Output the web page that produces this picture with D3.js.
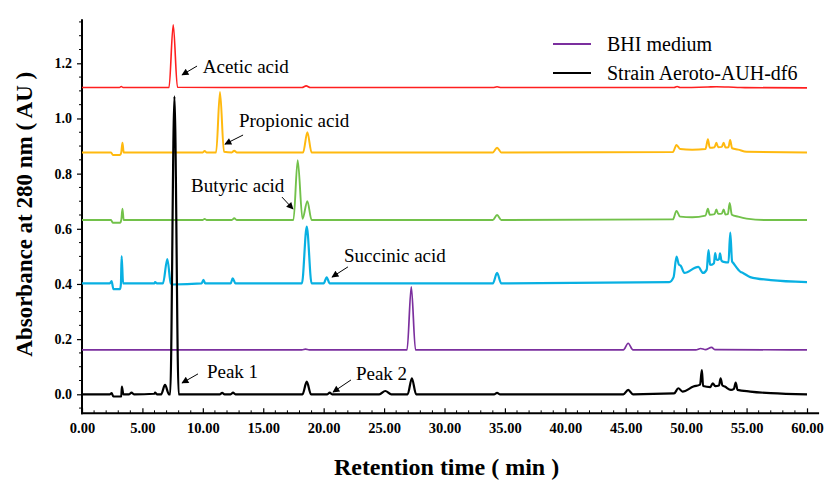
<!DOCTYPE html>
<html>
<head>
<meta charset="utf-8">
<script src="https://cdn.jsdelivr.net/npm/d3@7"></script>
<style>
  body { margin: 0; background: #fff; }
  svg { display: block; font-family: "Liberation Serif", "Times New Roman", serif; }
</style>
</head>
<body>
<div id="chart"></div>
<script>
// retention time (min), absorbance (AU)
const acetic = [
  [0, 1.112], [2.5, 1.112], [3.1, 1.112], [3.25, 1.116], [3.4, 1.112], [7.2, 1.112],
  [7.55, 1.34], [7.9, 1.113], [18.2, 1.112], [18.55, 1.118], [18.9, 1.112],
  [34.0, 1.112], [34.35, 1.115], [34.7, 1.112], [49.0, 1.112], [49.25, 1.116],
  [49.5, 1.112], [51.8, 1.114], [52.5, 1.115], [53.5, 1.114], [54.5, 1.112], [60, 1.111]
]
const propionic = [
  [0, 0.877], [2.4, 0.877], [2.55, 0.868], [3.15, 0.868], [3.25, 0.877], [3.35, 0.912],
  [3.45, 0.877], [10.0, 0.877], [10.15, 0.882], [10.3, 0.877], [11.1, 0.877],
  [11.42, 1.096], [11.75, 0.879], [12.4, 0.877], [12.6, 0.883], [12.8, 0.877],
  [18.3, 0.877], [18.65, 0.95], [19.0, 0.877], [34.0, 0.877], [34.35, 0.894],
  [34.7, 0.877], [48.9, 0.878], [49.2, 0.904], [49.5, 0.889], [50.5, 0.887],
  [51.6, 0.889], [51.8, 0.925], [51.95, 0.894], [52.35, 0.896], [52.5, 0.912],
  [52.65, 0.896], [52.95, 0.897], [53.1, 0.912], [53.25, 0.895], [53.5, 0.896],
  [53.64, 0.922], [53.8, 0.892], [54.3, 0.887], [55.0, 0.879], [60, 0.877]
]
const butyric = [
  [0, 0.632], [2.4, 0.632], [2.55, 0.622], [3.15, 0.622], [3.25, 0.632], [3.35, 0.673],
  [3.45, 0.632], [10.0, 0.632], [10.15, 0.636], [10.3, 0.632], [12.4, 0.632],
  [12.6, 0.638], [12.8, 0.632], [17.5, 0.632], [17.85, 0.849], [18.25, 0.636],
  [18.65, 0.70], [19.0, 0.632], [34.0, 0.632], [34.35, 0.65], [34.7, 0.632],
  [48.9, 0.634], [49.2, 0.665], [49.5, 0.644], [50.5, 0.642], [51.6, 0.648],
  [51.8, 0.673], [51.95, 0.651], [52.35, 0.653], [52.5, 0.67], [52.65, 0.654],
  [52.95, 0.655], [53.1, 0.67], [53.25, 0.652], [53.45, 0.653], [53.6, 0.694],
  [53.78, 0.651], [54.3, 0.644], [55.0, 0.637], [56.5, 0.632], [60, 0.632]
]
const succinic = [
  [0, 0.402], [2.3, 0.402], [2.45, 0.41], [2.6, 0.381], [3.15, 0.381], [3.22, 0.40],
  [3.28, 0.501], [3.4, 0.402], [6.0, 0.402], [6.05, 0.407], [6.2, 0.402], [6.7, 0.402],
  [7.06, 0.49], [7.35, 0.402], [7.5, 0.398], [9.9, 0.402], [10.05, 0.415], [10.2, 0.402],
  [12.3, 0.402], [12.47, 0.42], [12.7, 0.402], [18.2, 0.402], [18.6, 0.608],
  [19.0, 0.402], [20.0, 0.402], [20.25, 0.424], [20.5, 0.402], [34.0, 0.402],
  [34.35, 0.44], [34.7, 0.402], [48.6, 0.407], [48.96, 0.425], [49.2, 0.499],
  [49.4, 0.47], [49.55, 0.466], [49.85, 0.44], [51.0, 0.462], [51.4, 0.44],
  [51.7, 0.452], [51.85, 0.523], [51.98, 0.47], [52.05, 0.469], [52.3, 0.475],
  [52.4, 0.512], [52.5, 0.49], [52.6, 0.487], [52.72, 0.49], [52.8, 0.511],
  [52.92, 0.485], [53.1, 0.48], [53.5, 0.478], [53.65, 0.586], [53.8, 0.482],
  [53.9, 0.476], [54.5, 0.444], [54.7, 0.44], [55.3, 0.425], [57.0, 0.414], [60, 0.407]
]
const bhiMedium = [
  [0, 0.161], [18.2, 0.161], [18.5, 0.164], [18.8, 0.161], [26.9, 0.161], [27.25, 0.39],
  [27.6, 0.161], [44.8, 0.161], [45.2, 0.185], [45.6, 0.161], [50.8, 0.161],
  [51.2, 0.166], [51.6, 0.162], [52.1, 0.17], [52.4, 0.162], [60, 0.161]
]
const strain = [
  [0, 0.0], [2.3, 0.0], [2.45, 0.004], [2.6, -0.008], [3.25, -0.008], [3.3, 0.028],
  [3.42, 0.0], [3.9, 0.0], [4.1, 0.006], [4.3, 0.0], [6.0, 0.002], [6.05, 0.006],
  [6.2, 0.0], [6.55, 0.0], [6.87, 0.034], [7.2, 0.0], [7.3, 0.0], [7.65, 1.08],
  [8.0, 0.0], [11.4, 0.0], [11.6, 0.005], [11.8, 0.0], [12.3, 0.0], [12.5, 0.006],
  [12.7, 0.0], [18.25, 0.0], [18.6, 0.046], [18.95, 0.0], [20.3, 0.0], [20.5, 0.006],
  [20.7, 0.0], [24.6, 0.0], [25.1, 0.012], [25.6, 0.0], [26.95, 0.0], [27.3, 0.058],
  [27.65, 0.0], [34.1, 0.0], [34.35, 0.005], [34.6, 0.0], [44.8, 0.0], [45.2, 0.016],
  [45.6, 0.0], [49.0, 0.003], [49.35, 0.022], [49.7, 0.01], [50.6, 0.028],
  [51.15, 0.035], [51.3, 0.088], [51.4, 0.03], [52.0, 0.026], [52.2, 0.04],
  [52.4, 0.03], [52.72, 0.032], [52.85, 0.058], [53.0, 0.032], [53.2, 0.028],
  [53.7, 0.016], [53.95, 0.02], [54.1, 0.042], [54.25, 0.016], [55.3, 0.01],
  [57.0, 0.004], [60, 0.0]
]

const seriesNames = ["Acetic acid", "Propionic acid", "Butyric acid", "Succinic acid", "BHI medium", "Strain Aeroto-AUH-df6"]
const seriesData = [acetic, propionic, butyric, succinic, bhiMedium, strain]
const seriesColors = ["#ff1f1f", "#ffb90f", "#72c14a", "#08b0e2", "#7b2f9e", "#000000"]
const seriesWidths = [1.6, 2, 1.9, 2.2, 1.7, 2.2]

const legendNames = ["BHI medium", "Strain Aeroto-AUH-df6"]
const legendColors = ["#7b2f9e", "#000000"]

const xTicks = d3.range(0, 61, 5)
const yTicks = [0, 0.2, 0.4, 0.6, 0.8, 1.0, 1.2]

// [label, text t, text v, arrow tail t, tail v, arrow head t, head v]
const annotations = [
  ["Acetic acid", 10.0, 1.165, 9.52, 1.19, 8.28, 1.158],
  ["Propionic acid", 12.99, 0.97, 13.33, 0.94, 11.83, 0.907],
  ["Butyric acid", 9.02, 0.733, 16.55, 0.715, 17.46, 0.672],
  ["Succinic acid", 21.68, 0.48, 22.01, 0.462, 20.69, 0.425],
  ["Peak 1", 10.34, 0.059, 9.6, 0.074, 8.28, 0.041],
  ["Peak 2", 22.67, 0.052, 22.26, 0.052, 20.77, 0.008]
]

const width = 828
const height = 482

const svg = d3.select("#chart").append("svg")
  .attr("width", width)
  .attr("height", height)

const scaleX = d3.scaleLinear()
  .domain([0, 60])
  .range([82, 807])
const scaleY = d3.scaleLinear()
  .domain([0, 1.2])
  .range([394.3, 63.3])

const xEnd = 61
const yBottom = -0.069
const yTop = 1.36

svg.append("defs").append("marker")
  .attr("id", "arrow")
  .attr("viewBox", "0 0 10 10")
  .attr("refX", 9)
  .attr("refY", 5)
  .attr("markerUnits", "userSpaceOnUse")
  .attr("markerWidth", 9)
  .attr("markerHeight", 7)
  .attr("orient", "auto")
  .append("path")
    .attr("d", "M0,0 L10,5 L0,10 z")
    .attr("fill", "#000")

// x axis
const axisX = svg.append("g")
  .attr("transform", `translate(0,${scaleY(yBottom)})`)

axisX.append("g")
  .selectAll("line")
  .data(d3.range(1, 61).filter(d => d % 5 != 0))
  .join("line")
    .attr("x1", d => scaleX(d))
    .attr("x2", d => scaleX(d))
    .attr("y1", 0)
    .attr("y2", -3)
    .attr("stroke", "#000")
    .attr("stroke-width", 1)

axisX.call(d3.axisBottom(scaleX)
    .tickValues(xTicks)
    .tickFormat(d => d.toFixed(2))
    .tickSizeInner(-5)
    .tickSizeOuter(0)
    .tickPadding(9))
  .call(g => g.select(".domain").remove())
  .call(g => g.selectAll(".tick line").attr("stroke-width", 1.2))
  .call(g => g.selectAll(".tick text")
    .attr("font-family", "Liberation Serif")
    .attr("font-weight", "bold")
    .attr("font-size", 14.5)
    .attr("fill", "#000"))

axisX.append("line")
  .attr("x1", scaleX(0) - 1)
  .attr("x2", scaleX(xEnd))
  .attr("stroke", "#000")
  .attr("stroke-width", 2)

// y axis
const axisY = svg.append("g")
  .attr("transform", `translate(${scaleX(0)},0)`)

axisY.append("g")
  .selectAll("line")
  .data(d3.range(-1, 28).map(d => d * 0.05).filter(d => Math.round(d * 100) % 20 != 0))
  .join("line")
    .attr("x1", 0)
    .attr("x2", -3)
    .attr("y1", d => scaleY(d))
    .attr("y2", d => scaleY(d))
    .attr("stroke", "#000")
    .attr("stroke-width", 1)

axisY.call(d3.axisLeft(scaleY)
    .tickValues(yTicks)
    .tickFormat(d3.format(".1f"))
    .tickSizeInner(5)
    .tickSizeOuter(0)
    .tickPadding(5))
  .call(g => g.select(".domain").remove())
  .call(g => g.selectAll(".tick line").attr("stroke-width", 1.2))
  .call(g => g.selectAll(".tick text")
    .attr("font-family", "Liberation Serif")
    .attr("font-weight", "bold")
    .attr("font-size", 14)
    .attr("fill", "#000"))

axisY.append("line")
  .attr("y1", scaleY(yTop))
  .attr("y2", scaleY(yBottom) + 1)
  .attr("stroke", "#000")
  .attr("stroke-width", 2)

// traces
const line = d3.line()
  .x(d => scaleX(d[0]))
  .y(d => scaleY(d[1]))
  .curve(d3.curveMonotoneX)

svg.append("g")
  .selectAll("path")
  .data(seriesData)
  .join("path")
    .attr("d", line)
    .attr("fill", "none")
    .attr("stroke", (d, i) => seriesColors[i])
    .attr("stroke-width", (d, i) => seriesWidths[i])
    .attr("stroke-linejoin", "round")

// annotations
const notes = svg.append("g")
notes.selectAll("line")
  .data(annotations)
  .join("line")
    .attr("x1", d => scaleX(d[3]))
    .attr("y1", d => scaleY(d[4]))
    .attr("x2", d => scaleX(d[5]))
    .attr("y2", d => scaleY(d[6]))
    .attr("stroke", "#000")
    .attr("stroke-width", 1)
    .attr("marker-end", "url(#arrow)")
notes.selectAll("text")
  .data(annotations)
  .join("text")
    .attr("x", d => scaleX(d[1]))
    .attr("y", d => scaleY(d[2]))
    .attr("font-size", 19)
    .attr("fill", "#000")
    .text(d => d[0])

// legend
const legend = svg.append("g")
  .attr("transform", "translate(553,44)")
legend.selectAll("line")
  .data(legendNames)
  .join("line")
    .attr("x1", 0)
    .attr("x2", 38)
    .attr("y1", (d, i) => i * 29)
    .attr("y2", (d, i) => i * 29)
    .attr("stroke", (d, i) => legendColors[i])
    .attr("stroke-width", 1.8)
legend.selectAll("text")
  .data(legendNames)
  .join("text")
    .attr("x", 54)
    .attr("y", (d, i) => i * 29 + 7)
    .attr("font-size", 20)
    .attr("fill", "#000")
    .text(d => d)

// axis titles
svg.append("text")
  .attr("x", (scaleX(0) + scaleX(xEnd)) / 2 - 4)
  .attr("y", 475)
  .attr("text-anchor", "middle")
  .attr("font-size", 24)
  .attr("font-weight", "bold")
  .text("Retention time ( min )")

svg.append("text")
  .attr("transform", `translate(32,${(scaleY(yBottom) + scaleY(yTop)) / 2 - 2})rotate(-90)`)
  .attr("text-anchor", "middle")
  .attr("font-size", 23)
  .attr("font-weight", "bold")
  .text("Absorbance at 280 nm ( AU )")
</script>
</body>
</html>
